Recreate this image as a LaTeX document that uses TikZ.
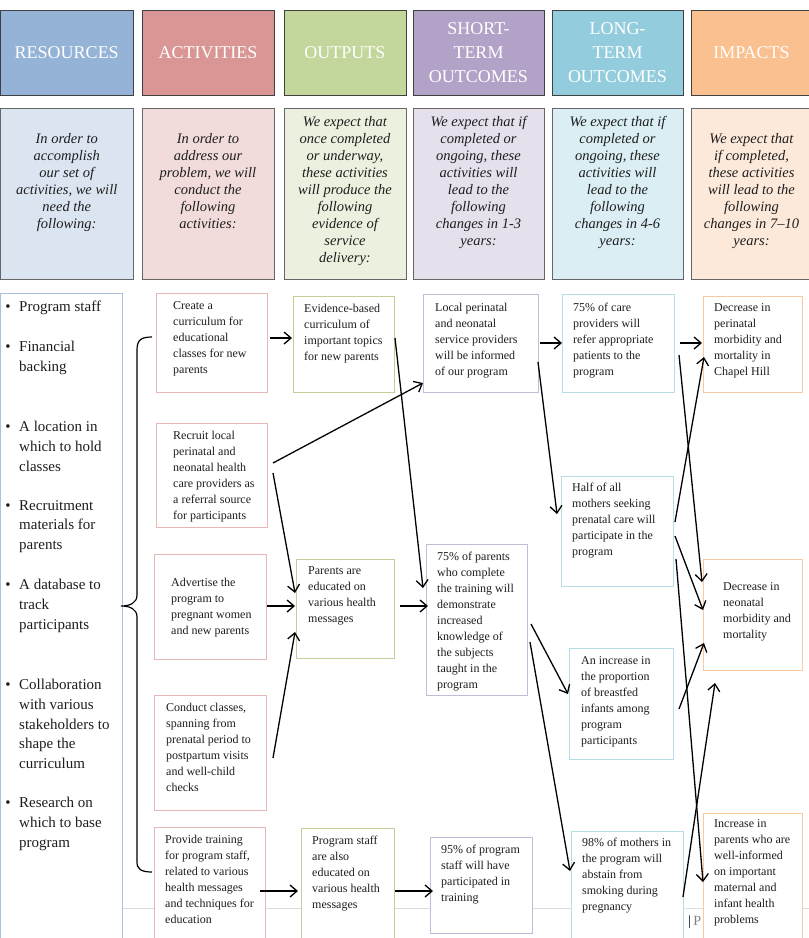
\documentclass[tikz,border=0pt]{standalone}
\usepackage{fontspec}
\setmainfont{Liberation Serif}
\usetikzlibrary{arrows.meta}
\definecolor{hRes}{HTML}{95B3D7}
\definecolor{hAct}{HTML}{D99694}
\definecolor{hOut}{HTML}{C3D69B}
\definecolor{hST}{HTML}{B2A2C7}
\definecolor{hLT}{HTML}{93CDDD}
\definecolor{hImp}{HTML}{FAC08F}
\definecolor{dRes}{HTML}{DBE5F1}
\definecolor{dAct}{HTML}{F2DCDB}
\definecolor{dOut}{HTML}{EBF1DE}
\definecolor{dST}{HTML}{E5E0EC}
\definecolor{dLT}{HTML}{DBEEF4}
\definecolor{dImp}{HTML}{FDE9D9}
\definecolor{bRes}{HTML}{A9C0DF}
\definecolor{bAct}{HTML}{E6B9B8}
\definecolor{bOut}{HTML}{C3CF98}
\definecolor{bST}{HTML}{C4BBD8}
\definecolor{bLT}{HTML}{B7DDE8}
\definecolor{bImp}{HTML}{F9C9A0}
\definecolor{txtc}{HTML}{1E1E1E}
\definecolor{footc}{HTML}{DDDDDD}
\tikzset{
  hdrbox/.style={rectangle, draw=black!75, line width=0.8pt, inner sep=0pt, outer sep=0pt, text=white,
    font=\fontsize{18}{24}\selectfont, align=center},
  descbox/.style={rectangle, draw=black!60, line width=0.8pt, inner sep=0pt, outer sep=0pt},
  desctxt/.style={inner sep=0pt, anchor=north, align=center, text=txtc,
    font=\fontsize{14.5}{17}\selectfont\itshape},
  bodybox/.style={rectangle, fill=white, line width=0.8pt, inner sep=0pt, outer sep=0pt},
  bodytxt/.style={inner sep=0pt, anchor=north west, align=left, text=txtc,
    font=\fontsize{12}{16}\selectfont},
  restxt/.style={inner sep=0pt, anchor=north west, align=left, text=txtc,
    font=\fontsize{15}{19.7}\selectfont},
  resbul/.style={inner sep=0pt, anchor=center, text=txtc, font=\fontsize{15}{19.7}\selectfont},
  arr/.style={draw=black, line width=1.3pt, -{Straight Barb[length=7pt,width=12pt,line width=1.3pt]}},
}
\newcommand{\hdr}[6]{%
  \node[hdrbox, fill=#2, minimum width={#4-#3}, minimum height=85] (#1) at ({(#3+#4)/2},52.5) {#5};
}
\newcommand{\dsc}[7]{%
  \node[descbox, fill=#2, minimum width={#4-#3}, minimum height=171] (#1) at ({(#3+#4)/2},193.5) {};
  \node[desctxt] (#1t) at ({(#3+#4)/2},{#5-6.6}) {#6};
}
\newcommand{\lmbox}[9]{%
  \node[bodybox, draw=#2, minimum width={#5-#3}, minimum height={#6-#4}] (#1) at ({(#3+#5)/2},{(#4+#6)/2}) {};
  \node[bodytxt] (#1t) at (#7,{#8-5.5}) {#9};
}
\newcommand{\resitem}[3]{%
  \node[resbul] (#1b) at (8,#2) {•};
  \node[restxt] (#1) at (19,{#2-6.9}) {#3};
}
\begin{document}
\begin{tikzpicture}[x=1pt,y=-1pt]
\useasboundingbox (0,0) rectangle (809,938);
\clip (0,0) rectangle (809,938);

% headers
\hdr{hres}{hRes}{0.5}{133}{RESOURCES}{}
\hdr{hact}{hAct}{142}{274}{ACTIVITIES}{}
\hdr{hout}{hOut}{284}{406}{OUTPUTS}{}
\hdr{hst}{hST}{413}{544}{SHORT-\\TERM\\OUTCOMES}{}
\hdr{hlt}{hLT}{552}{683}{LONG-\\TERM\\OUTCOMES}{}
\hdr{himp}{hImp}{691}{812}{IMPACTS}{}

% descriptions
\dsc{dres}{dRes}{0.5}{133}{140}{In order to\\accomplish\\our set of\\activities, we will\\need the\\following:}{}
\dsc{dact}{dAct}{142}{274}{140}{In order to\\address our\\problem, we will\\conduct the\\following\\activities:}{}
\dsc{dout}{dOut}{284}{406}{123}{We expect that\\once completed\\or underway,\\these activities\\will produce the\\following\\evidence of\\service\\delivery:}{}
\dsc{dst}{dST}{413}{544}{123}{We expect that if\\completed or\\ongoing, these\\activities will\\lead to the\\following\\changes in 1-3\\years:}{}
\dsc{dlt}{dLT}{552}{683}{123}{We expect that if\\completed or\\ongoing, these\\activities will\\lead to the\\following\\changes in 4-6\\years:}{}
\dsc{dimp}{dImp}{691}{812}{140}{We expect that\\if completed,\\these activities\\will lead to the\\following\\changes in 7–10\\years:}{}

% footer line and page mark
\draw[footc, line width=1pt] (122,908) -- (809,908);
\node[inner sep=0pt, anchor=west, font=\fontsize{14}{16}\selectfont] (pg) at (688,922) {|\,\textcolor{gray}{ P}};

% resources box
\node[bodybox, draw=bRes, minimum width=121.5, minimum height=670, anchor=north west] (resbox) at (0.5,293) {};
\resitem{r1}{308}{Program staff}
\resitem{r2}{348}{Financial\\backing}
\resitem{r3}{428}{A location in\\which to hold\\classes}
\resitem{r4}{507}{Recruitment\\materials for\\parents}
\resitem{r5}{586}{A database to\\track\\participants}
\resitem{r6}{686}{Collaboration\\with various\\stakeholders to\\shape the\\curriculum}
\resitem{r7}{804}{Research on\\which to base\\program}

% activities
\lmbox{a1}{bAct}{156}{293}{267}{392}{173}{307}{Create a\\curriculum for\\educational\\classes for new\\parents}
\lmbox{a2}{bAct}{156}{423}{267}{527}{173}{436}{Recruit local\\perinatal and\\neonatal health\\care providers as\\a referral source\\for participants}
\lmbox{a3}{bAct}{154}{554}{266}{659}{171}{583}{Advertise the\\program to\\pregnant women\\and new parents}
\lmbox{a4}{bAct}{154}{695}{266}{810}{166}{708}{Conduct classes,\\spanning from\\prenatal period to\\postpartum visits\\and well-child\\checks}
\lmbox{a5}{bAct}{154}{827}{265}{960}{165}{840}{Provide training\\for program staff,\\related to various\\health messages\\and techniques for\\education}

% outputs
\lmbox{o1}{bOut}{293}{296}{394}{392}{304}{309}{Evidence-based\\curriculum of\\important topics\\for new parents}
\lmbox{o2}{bOut}{296}{559}{394}{658}{308}{572}{Parents are\\educated on\\various health\\messages}
\lmbox{o3}{bOut}{301}{828}{394}{960}{312}{841}{Program staff\\are also\\educated on\\various health\\messages}

% short-term
\lmbox{s1}{bST}{423}{294}{538}{392}{435}{308}{Local perinatal\\and neonatal\\service providers\\will be informed\\of our program}
\lmbox{s2}{bST}{426}{544}{527}{695}{437}{557}{75\% of parents\\who complete\\the training will\\demonstrate\\increased\\knowledge of\\the subjects\\taught in the\\program}
\lmbox{s3}{bST}{430}{837}{532}{933}{441}{850}{95\% of program\\staff will have\\participated in\\training}

% long-term
\lmbox{l1}{bLT}{562}{294}{674}{392}{573}{308}{75\% of care\\providers will\\refer appropriate\\patients to the\\program}
\lmbox{l2}{bLT}{561}{476}{673}{586}{572}{488}{Half of all\\mothers seeking\\prenatal care will\\participate in the\\program}
\lmbox{l3}{bLT}{569}{648}{673}{759}{581}{662}{An increase in\\the proportion\\of breastfed\\infants among\\program\\participants}
\lmbox{l4}{bLT}{571}{831}{683}{960}{582}{843}{98\% of mothers in\\the program will\\abstain from\\smoking during\\pregnancy}

% impacts
\lmbox{i1}{bImp}{703}{296}{802}{392}{714}{309}{Decrease in\\perinatal\\morbidity and\\mortality in\\Chapel Hill}
\lmbox{i2}{bImp}{703}{559}{802}{670}{723}{588}{Decrease in\\neonatal\\morbidity and\\mortality}
\lmbox{i3}{bImp}{703}{813}{802}{960}{714}{825}{Increase in\\parents who are\\well-informed\\on important\\maternal and\\infant health\\problems}

% brace
\draw[black, line width=1.2pt] (152,337) .. controls (141,337) and (137,340) .. (137,350) -- (137,595)
  .. controls (137,603) and (130,606) .. (121,606) .. controls (130,606) and (137,609) .. (137,617)
  -- (137,862) .. controls (137,869) and (141,872) .. (152,872);

% arrow end points
\coordinate (e1s) at (270,338);  \coordinate (e1e) at (292,338);
\coordinate (e2s) at (273,463);  \coordinate (e2e) at (423,383);
\coordinate (e3s) at (273,473);  \coordinate (e3e) at (295,593);
\coordinate (e4s) at (267,606);  \coordinate (e4e) at (295,606);
\coordinate (e5s) at (273,758);  \coordinate (e5e) at (295,632);
\coordinate (e6s) at (395,338);  \coordinate (e6e) at (423,588);
\coordinate (e7s) at (400,606);  \coordinate (e7e) at (428,606);
\coordinate (e8s) at (260,891);  \coordinate (e8e) at (298,891);
\coordinate (e9s) at (395,891);  \coordinate (e9e) at (433,891);
\coordinate (e10s) at (540,343); \coordinate (e10e) at (562,343);
\coordinate (e11s) at (680,343); \coordinate (e11e) at (702,343);
\coordinate (e12s) at (538,362); \coordinate (e12e) at (557,514);
\coordinate (e13s) at (531,624); \coordinate (e13e) at (568,694);
\coordinate (e14s) at (530,642); \coordinate (e14e) at (570,871);
\coordinate (e15s) at (675,522); \coordinate (e15e) at (704,357);
\coordinate (e16s) at (679,355); \coordinate (e16e) at (702,582);
\coordinate (e17s) at (675,536); \coordinate (e17e) at (703,610);
\coordinate (e18s) at (676,559); \coordinate (e18e) at (703,882);
\coordinate (e19s) at (679,709); \coordinate (e19e) at (704,643);
\coordinate (e20s) at (683,897); \coordinate (e20e) at (715,683);

\foreach \k in {1,...,20} {\draw[arr] (e\k s) -- (e\k e);}
\end{tikzpicture}
\end{document}
